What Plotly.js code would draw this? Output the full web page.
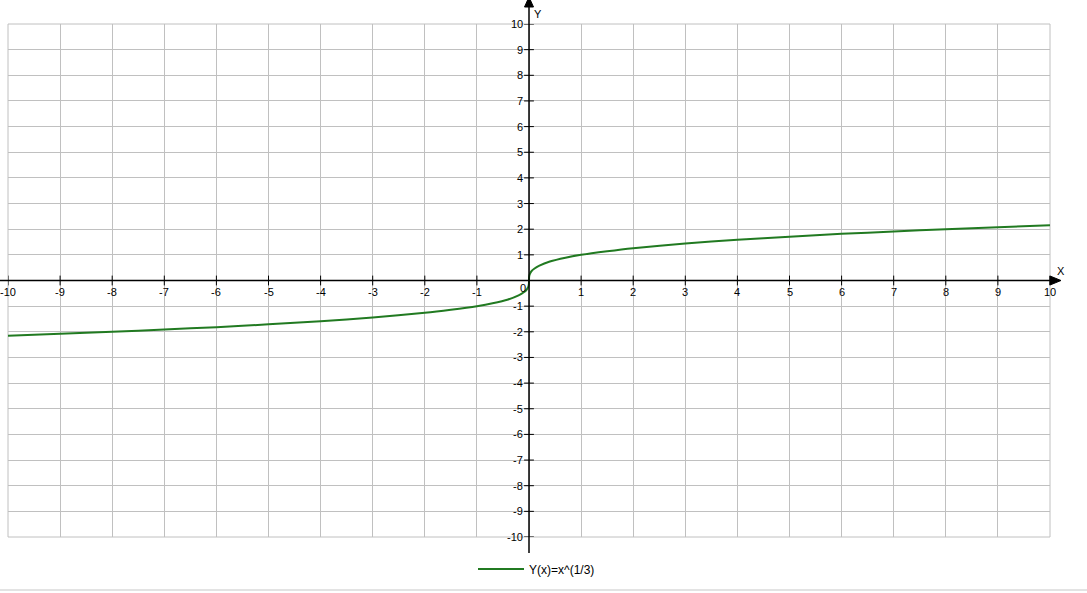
<!DOCTYPE html>
<html>
<head>
<meta charset="utf-8">
<script src="https://cdn.plot.ly/plotly-3.0.1.min.js"></script>
<style>html,body{margin:0;padding:0;background:#fff;}#chart{width:1087px;height:593px;}</style>
</head>
<body>
<div id="chart"></div>
<script>
// Curve values: Y(x)=x^(1/3)
var curveX = [-10, -9, -8, -7, -6, -5, -4, -3, -2, -1.5, -1, -0.7, -0.4, -0.2, -0.1, -0.05, -0.02, -0.008, -0.002, 0,
              0.002, 0.008, 0.02, 0.05, 0.1, 0.2, 0.4, 0.7, 1, 1.5, 2, 3, 4, 5, 6, 7, 8, 9, 10];
var curveY = [-2.15, -2.08, -2.0, -1.91, -1.82, -1.71, -1.59, -1.44, -1.26, -1.14, -1.0, -0.89, -0.74, -0.58, -0.46, -0.37, -0.27, -0.2, -0.13, 0,
              0.13, 0.2, 0.27, 0.37, 0.46, 0.58, 0.74, 0.89, 1.0, 1.14, 1.26, 1.44, 1.59, 1.71, 1.82, 1.91, 2.0, 2.08, 2.15];
var seriesName = 'Y(x)=x^(1/3)';
var tickValues = [-10, -9, -8, -7, -6, -5, -4, -3, -2, -1, 1, 2, 3, 4, 5, 6, 7, 8, 9, 10];
var tickLabels = ['-10', '-9', '-8', '-7', '-6', '-5', '-4', '-3', '-2', '-1', '1', '2', '3', '4', '5', '6', '7', '8', '9', '10'];
var originLabel = '0';
var xAxisName = 'X';
var yAxisName = 'Y';

var green = '#217a21';
var font = {family: 'Liberation Sans, Arial, sans-serif', size: 11, color: '#000'};
var legendFont = {family: 'Liberation Sans, Arial, sans-serif', size: 12, color: '#000'};

var zeros = tickValues.map(function () { return 0; });

var traces = [
  {x: tickValues, y: zeros, mode: 'markers', hoverinfo: 'skip', showlegend: false,
   marker: {symbol: 'line-ns-open', size: 7, color: '#000', line: {color: '#000', width: 1}}},
  {x: zeros, y: tickValues, mode: 'markers', hoverinfo: 'skip', showlegend: false,
   marker: {symbol: 'line-ew-open', size: 7, color: '#000', line: {color: '#000', width: 1}}},
  {x: curveX, y: curveY, mode: 'lines', name: seriesName,
   line: {color: green, width: 2, shape: 'spline', smoothing: 0.6}}
];

var annotations = [];
tickValues.forEach(function (v, i) {
  annotations.push({x: v, y: 0, xref: 'x', yref: 'y', text: tickLabels[i], showarrow: false,
    xanchor: 'center', yanchor: 'middle', yshift: -11, font: font});
  annotations.push({x: 0, y: v, xref: 'x', yref: 'y', text: tickLabels[i], showarrow: false,
    xanchor: 'right', yanchor: 'middle', xshift: -4, font: font});
});
annotations.push({x: 0, y: 0, xref: 'x', yref: 'y', text: originLabel, showarrow: false,
  xanchor: 'right', yanchor: 'middle', xshift: -1, yshift: -7, font: font});
annotations.push({x: 0.5, y: 1.027, xref: 'paper', yref: 'paper', text: yAxisName, showarrow: false,
  xanchor: 'left', yanchor: 'middle', xshift: 3, yshift: -4, font: font});
annotations.push({x: 1.0106, y: 0.5, xref: 'paper', yref: 'paper', text: xAxisName, showarrow: false,
  xanchor: 'center', yanchor: 'middle', yshift: 10, font: font});

var pw = 1042, ph = 513;
var shapes = [
  {type: 'rect', xref: 'paper', yref: 'paper', x0: 0, x1: 1, y0: 0, y1: 1, layer: 'below',
   line: {color: '#c0c0c0', width: 1}},
  {type: 'line', xref: 'paper', yref: 'paper', x0: 0.5, x1: 0.5, y0: -16 / ph, y1: 1 + 18 / ph,
   line: {color: '#000', width: 1.5}},
  {type: 'line', xref: 'paper', yref: 'paper', x0: -8 / pw, x1: 1 + 1 / pw, y0: 0.5, y1: 0.5,
   line: {color: '#000', width: 1.5}},
  {type: 'path', xref: 'paper', yref: 'paper', fillcolor: '#000', line: {color: '#000', width: 1},
   path: 'M' + (0.5 - 4.5 / pw) + ',' + (1 + 17 / ph) + ' L' + (0.5 + 4.5 / pw) + ',' + (1 + 17 / ph) +
         ' L0.5,' + (1 + 27 / ph) + ' Z'},
  {type: 'path', xref: 'paper', yref: 'paper', fillcolor: '#000', line: {color: '#000', width: 1},
   path: 'M' + (1 + 0 / pw) + ',' + (0.5 - 4.5 / ph) + ' L' + (1 + 0 / pw) + ',' + (0.5 + 4.5 / ph) +
         ' L' + (1 + 11 / pw) + ',0.5 Z'},
  {type: 'line', xref: 'paper', yref: 'paper', x0: -8 / pw, x1: 1 + 37 / pw, y0: -53 / ph, y1: -53 / ph,
   line: {color: '#e3e3e3', width: 2}}
];

var axisCommon = {range: [-10, 10], dtick: 1, tick0: 0, showgrid: true, gridcolor: '#c0c0c0', gridwidth: 1,
  zeroline: false, showline: false, showticklabels: false, ticks: '', fixedrange: true};

var layout = {
  width: 1087, height: 593,
  margin: {l: 8, r: 37, t: 24, b: 56},
  paper_bgcolor: '#fff', plot_bgcolor: '#fff',
  font: font,
  xaxis: Object.assign({}, axisCommon),
  yaxis: Object.assign({}, axisCommon),
  showlegend: true,
  legend: {orientation: 'h', x: 465 / pw, y: -32 / ph, xanchor: 'left', yanchor: 'middle',
    bgcolor: 'rgba(0,0,0,0)', borderwidth: 0, font: legendFont, itemwidth: 46},
  shapes: shapes,
  annotations: annotations
};

Plotly.newPlot('chart', traces, layout, {displayModeBar: false, staticPlot: true});
</script>
</body>
</html>
